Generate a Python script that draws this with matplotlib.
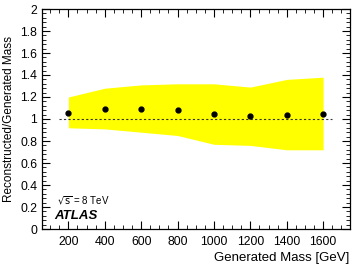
import matplotlib
matplotlib.use("Agg")
import matplotlib.pyplot as plt
from matplotlib.ticker import MultipleLocator

plt.rcParams['font.family'] = ['Liberation Sans', 'DejaVu Sans']

# generated mass points [GeV]
mass = [200, 400, 600, 800, 1000, 1200, 1400, 1600]
# reconstructed / generated ratio
ratio = [1.055, 1.09, 1.093, 1.078, 1.042, 1.024, 1.036, 1.042]
# yellow band edges
band_hi = [1.20, 1.28, 1.31, 1.32, 1.32, 1.29, 1.36, 1.38]
band_lo = [0.92, 0.91, 0.88, 0.85, 0.77, 0.76, 0.72, 0.72]

fig = plt.figure(figsize=(3.56, 2.64), dpi=100)
ax = fig.add_axes([42 / 356, 35 / 264, 307.5 / 356, 220 / 264])

ax.fill_between(mass, band_lo, band_hi, color='#ffff00', lw=0)
ax.plot([150, 1650], [1, 1], ls=(0, (2, 2)), color='#333333', lw=0.8)
ax.plot(mass, ratio, 'o', color='black', ms=3.5)

ax.set_xlim(55, 1745)
ax.set_ylim(0, 2)
ax.xaxis.set_major_locator(MultipleLocator(200))
ax.xaxis.set_minor_locator(MultipleLocator(50))
ax.yaxis.set_major_locator(MultipleLocator(0.2))
ax.yaxis.set_minor_locator(MultipleLocator(0.04))
ax.yaxis.set_major_formatter(plt.FuncFormatter(lambda v, p: '%g' % round(v, 1)))
ax.tick_params(which='both', direction='in', top=True, right=True, labelsize=8.8, colors='black')
ax.tick_params(which='major', length=6, width=0.8)
ax.tick_params(which='minor', length=3, width=0.6)
ax.tick_params(axis='x', pad=5)
for s in ax.spines.values():
    s.set_linewidth(0.9)

ax.set_xlabel('Generated Mass [GeV]', fontsize=9.5, loc='right', labelpad=3)
ax.set_ylabel('Reconstructed/Generated Mass', fontsize=8.5, labelpad=4)

ax.text(138, 0.255, r'$\sqrt{\rm s}$ = 8 TeV', fontsize=7, va='center')
ax.text(121, 0.12, 'ATLAS', fontsize=9.5, fontweight='bold', fontstyle='italic', va='center')

fig.savefig('out.png', dpi=100)
